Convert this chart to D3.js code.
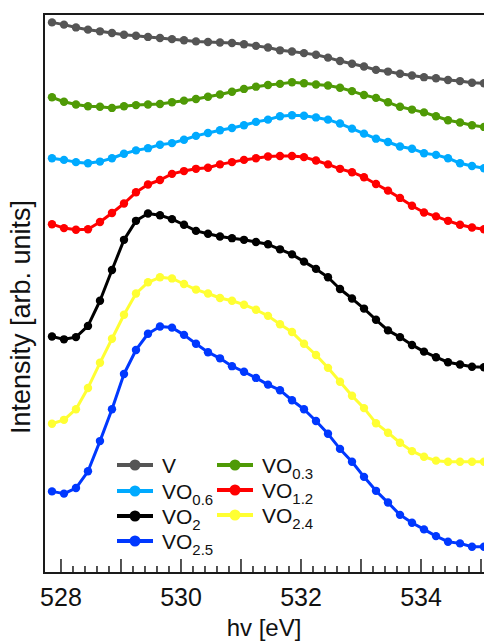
<!DOCTYPE html>
<html>
<head>
<meta charset="utf-8">
<script src="https://cdn.jsdelivr.net/npm/d3@7"></script>
<style>
  html, body { margin: 0; padding: 0; background: #fff; }
  svg { display: block; font-family: Arial, "Liberation Sans", sans-serif; }
</style>
</head>
<body>
<svg id="chart" width="484" height="644"></svg>
<script>
// Photon energy (eV) of each measured point
const energy = [527.85, 528.05, 528.25, 528.45, 528.65, 528.85, 529.05, 529.25, 529.45, 529.65,
  529.85, 530.05, 530.25, 530.45, 530.65, 530.85, 531.05, 531.25, 531.45, 531.65,
  531.85, 532.05, 532.25, 532.45, 532.65, 532.85, 533.05, 533.25, 533.45, 533.65,
  533.85, 534.05, 534.25, 534.45, 534.65, 534.85, 535.05];

// Offset O K-edge spectra (arb. units)
const sV = [98.5, 98.1, 97.6, 97.2, 96.9, 96.6, 96.3, 96.1, 95.9, 95.7,
  95.5, 95.3, 95.1, 95.0, 94.9, 94.8, 94.6, 94.3, 94.0, 93.5,
  93.3, 93.0, 92.7, 92.2, 91.6, 91.1, 90.6, 90.0, 89.7, 89.3,
  89.0, 88.7, 88.5, 88.2, 88.0, 87.7, 87.6];
const sVO03 = [85.1, 84.3, 83.8, 83.5, 83.4, 83.2, 83.5, 83.7, 83.8, 83.9,
  84.2, 84.5, 84.8, 85.2, 85.6, 86.1, 86.6, 87.0, 87.3, 87.5,
  87.8, 87.6, 87.4, 87.2, 86.8, 86.2, 85.5, 85.0, 84.2, 83.4,
  82.9, 82.4, 81.7, 81.0, 80.6, 80.1, 79.8];
const sVO06 = [74.2, 73.9, 73.5, 73.3, 73.6, 74.2, 75.0, 75.6, 76.0, 76.6,
  76.9, 77.5, 78.2, 78.7, 79.2, 79.6, 80.1, 80.7, 81.1, 81.7,
  81.9, 81.8, 81.5, 81.1, 80.4, 79.5, 78.6, 77.7, 77.1, 76.3,
  75.9, 75.1, 74.8, 74.2, 73.3, 72.8, 72.4];
const sVO12 = [62.4, 61.7, 61.4, 61.5, 62.8, 64.4, 66.1, 68.1, 69.5, 70.3,
  71.4, 71.9, 72.3, 72.5, 73.1, 73.5, 73.9, 74.2, 74.5, 74.6,
  74.6, 74.4, 73.8, 73.1, 72.3, 71.7, 70.8, 69.6, 68.4, 67.1,
  65.7, 64.5, 63.8, 63.0, 62.3, 61.8, 61.5];
const sVO2 = [42.3, 41.8, 42.2, 44.2, 48.7, 54.2, 59.6, 63.0, 64.3, 64.0,
  63.3, 62.3, 61.2, 60.7, 60.2, 59.9, 59.6, 59.2, 58.8, 57.9,
  57.0, 55.7, 54.4, 52.9, 50.8, 49.1, 47.3, 45.3, 43.4, 42.2,
  40.8, 39.6, 38.6, 37.7, 37.3, 36.9, 36.8];
const sVO24 = [26.7, 27.4, 29.3, 33.1, 37.6, 41.9, 46.2, 50.0, 52.0, 52.9,
  52.7, 51.7, 50.7, 50.0, 49.2, 48.7, 48.0, 47.1, 46.0, 44.5,
  43.1, 41.0, 39.0, 36.7, 34.2, 31.7, 29.5, 26.8, 25.1, 23.3,
  21.8, 20.8, 20.1, 19.9, 19.9, 19.9, 19.9];
const sVO25 = [14.6, 14.2, 15.2, 18.2, 23.6, 29.3, 35.6, 39.9, 42.8, 44.1,
  43.9, 42.6, 41.0, 39.5, 38.4, 37.0, 36.0, 34.9, 33.7, 32.7,
  30.9, 29.3, 27.2, 24.9, 22.2, 19.9, 17.2, 14.7, 12.6, 10.4,
  9.0, 7.8, 6.6, 5.6, 5.3, 4.7, 4.7];

// Legend names: base text and subscript
const seriesBase = ["V", "VO", "VO", "VO", "VO", "VO", "VO"];
const seriesSub = ["", "0.3", "0.6", "1.2", "2", "2.4", "2.5"];
const seriesColor = ["#555555", "#4f9a06", "#00aaff", "#ff0000", "#000000", "#ffff33", "#0038ff"];
const seriesValues = [sV, sVO03, sVO06, sVO12, sVO2, sVO24, sVO25];

const xTickLabels = [528, 530, 532, 534];
const xTitle = "hv [eV]";
const yTitle = "Intensity [arb. units]";

const svg = d3.select("#chart");
const plotLeft = 44, plotRight = 484, plotTop = 14, plotBottom = 573;

const x = d3.scaleLinear().domain([527.717, 535.05]).range([plotLeft, plotRight]);
const y = d3.scaleLinear().domain([0, 100]).range([plotBottom, plotTop]);

// Plot frame (right side falls at the page edge)
svg.append("rect")
  .attr("x", plotLeft).attr("y", plotTop)
  .attr("width", plotRight - plotLeft + 4).attr("height", plotBottom - plotTop)
  .attr("fill", "none").attr("stroke", "#1a1a1a").attr("stroke-width", 2);

// Inward ticks on the energy axis
const minorTicks = d3.range(528, 535.01, 0.2).map(v => +v.toFixed(1));
svg.append("g").selectAll("line")
  .data(minorTicks)
  .join("line")
  .attr("x1", d => x(d)).attr("x2", d => x(d))
  .attr("y1", plotBottom)
  .attr("y2", d => Math.abs(d - Math.round(d)) < 1e-6 ? plotBottom - 14 : plotBottom - 7)
  .attr("stroke", "#1a1a1a").attr("stroke-width", 1.5);

svg.append("g").selectAll("text")
  .data(xTickLabels)
  .join("text")
  .attr("x", d => x(d)).attr("y", 606)
  .attr("text-anchor", "middle")
  .attr("font-size", 25).attr("fill", "#111")
  .text(d => d);

svg.append("text")
  .attr("x", 264).attr("y", 636)
  .attr("text-anchor", "middle")
  .attr("font-size", 24).attr("fill", "#111")
  .text(xTitle);

svg.append("text")
  .attr("transform", "translate(30,317) rotate(-90)")
  .attr("text-anchor", "middle")
  .attr("font-size", 27).attr("fill", "#111")
  .text(yTitle);

// Spectra
const plot = svg.append("g");
const line = d3.line().x((d, i) => x(energy[i])).y(d => y(d));

seriesValues.forEach((vals, k) => {
  const g = plot.append("g");
  g.append("path")
    .attr("d", line(vals))
    .attr("fill", "none")
    .attr("stroke", seriesColor[k])
    .attr("stroke-width", 3)
    .attr("stroke-linejoin", "round");
  g.selectAll("circle")
    .data(vals)
    .join("circle")
    .attr("cx", (d, i) => x(energy[i]))
    .attr("cy", d => y(d))
    .attr("r", 4.2)
    .attr("fill", seriesColor[k]);
});

// Legend: two columns
const legendOrder = [0, 2, 4, 6, 1, 3, 5];
const legendPos = [
  [117, 465], [117, 491], [117, 516], [117, 541],
  [217, 465], [217, 490], [217, 515]
];
legendOrder.forEach((k, j) => {
  const [lx, ly] = legendPos[j];
  const g = svg.append("g");
  g.append("line")
    .attr("x1", lx).attr("x2", lx + 36)
    .attr("y1", ly).attr("y2", ly)
    .attr("stroke", seriesColor[k]).attr("stroke-width", 4);
  g.append("circle")
    .attr("cx", lx + 18).attr("cy", ly).attr("r", 5.5)
    .attr("fill", seriesColor[k]);
  const t = g.append("text")
    .attr("x", lx + 45).attr("y", ly + 7.5)
    .attr("font-size", 21).attr("fill", "#111");
  t.append("tspan").text(seriesBase[k]);
  if (seriesSub[k]) {
    t.append("tspan")
      .attr("font-size", 15)
      .attr("dy", 6)
      .text(seriesSub[k]);
  }
});
</script>
</body>
</html>
